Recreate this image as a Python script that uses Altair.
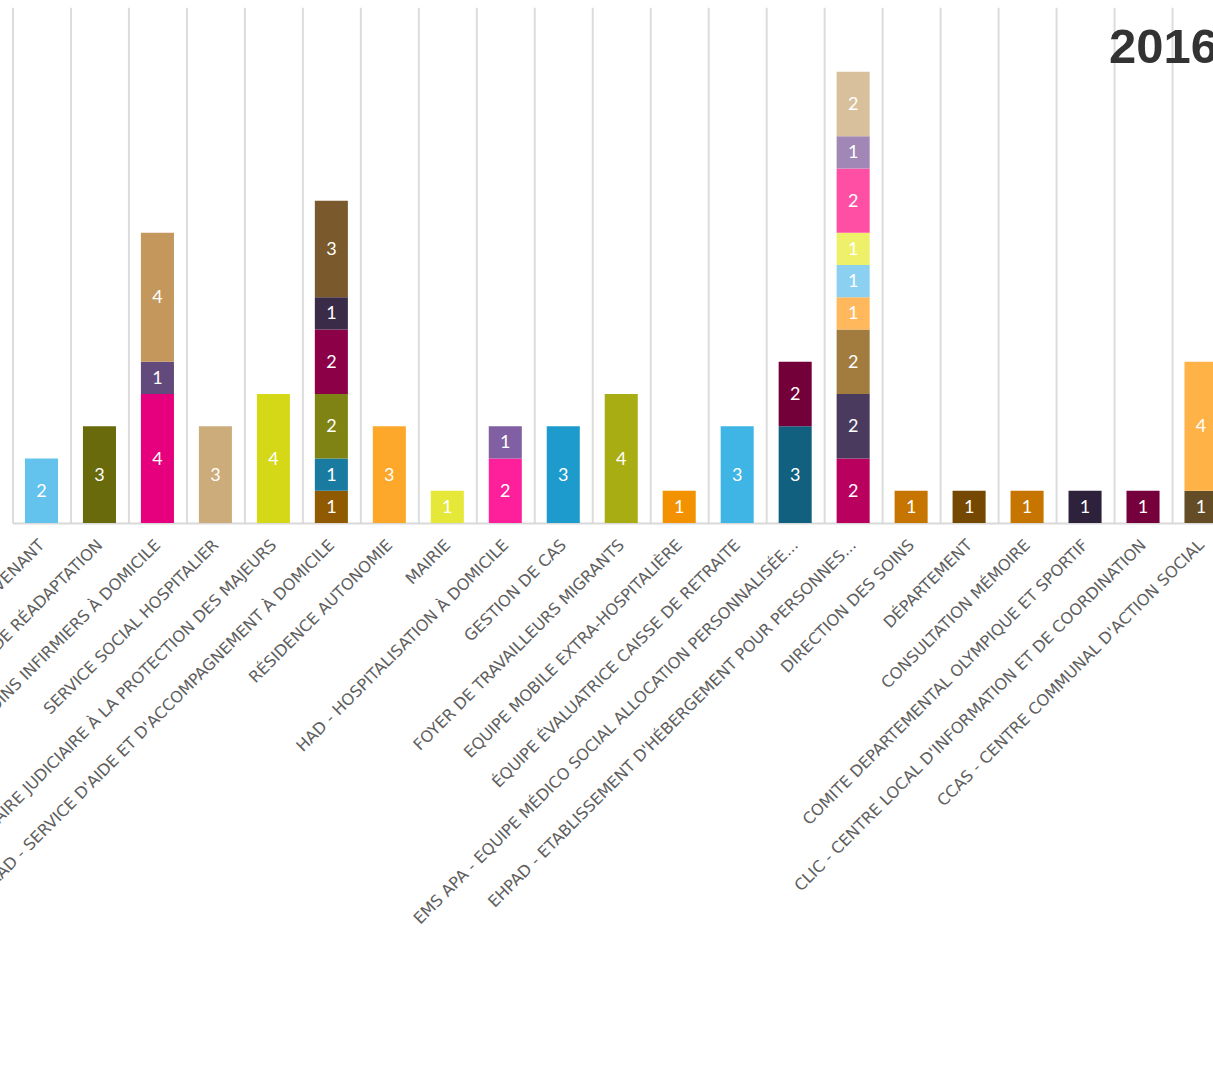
import altair as alt
import pandas as pd

CATEGORIES = [
    "PROFESSIONNEL INTERVENANT",
    "SSR - SOINS DE SUITE ET DE RÉADAPTATION",
    "SSIAD - SERVICE DE SOINS INFIRMIERS À DOMICILE",
    "SERVICE SOCIAL HOSPITALIER",
    "MANDATAIRE JUDICIAIRE À LA PROTECTION DES MAJEURS",
    "SAAD - SERVICE D'AIDE ET D'ACCOMPAGNEMENT À DOMICILE",
    "RÉSIDENCE AUTONOMIE",
    "MAIRIE",
    "HAD - HOSPITALISATION À DOMICILE",
    "GESTION DE CAS",
    "FOYER DE TRAVAILLEURS MIGRANTS",
    "EQUIPE MOBILE EXTRA-HOSPITALIÈRE",
    "ÉQUIPE ÉVALUATRICE CAISSE DE RETRAITE",
    "EMS APA - EQUIPE MÉDICO SOCIAL ALLOCATION PERSONNALISÉE...",
    "EHPAD - ETABLISSEMENT D'HÉBERGEMENT POUR PERSONNES...",
    "DIRECTION DES SOINS",
    "DÉPARTEMENT",
    "CONSULTATION MÉMOIRE",
    "COMITE DEPARTEMENTAL OLYMPIQUE ET SPORTIF",
    "CLIC - CENTRE LOCAL D'INFORMATION ET DE COORDINATION",
    "CCAS - CENTRE COMMUNAL D'ACTION SOCIAL",
]

# stacked values, bottom to top, for each category
VALUES = [
    [2],
    [3],
    [4, 1, 4],
    [3],
    [4],
    [1, 1, 2, 2, 1, 3],
    [3],
    [1],
    [2, 1],
    [3],
    [4],
    [1],
    [3],
    [3, 2],
    [2, 2, 2, 1, 1, 1, 2, 1, 2],
    [1],
    [1],
    [1],
    [1],
    [1],
    [1, 4],
]

# one colour per segment, same order as VALUES flattened
PALETTE = [
    "#63c3ec",
    "#686a0c",
    "#e6007e", "#624a7c", "#c4975c",
    "#cdac7c",
    "#d4d816",
    "#8f5a00", "#197ba0", "#7f8313", "#8c0048", "#3a2b48", "#7a5a2d",
    "#fea82b",
    "#e5e838",
    "#fe1f9a", "#8060a3",
    "#1e9bcd",
    "#a9ad14",
    "#f29200",
    "#3eb5e5",
    "#126080", "#740039",
    "#b9005f", "#4a3a5e", "#a27b3e", "#ffb95c", "#8bd0f0", "#eef06a", "#ff4fa5", "#a087b6", "#d8c09c",
    "#c57500",
    "#744800",
    "#c57500",
    "#2e213c",
    "#75003c",
    "#644c27", "#ffb347",
]

TITLE = "2016"

rows = []
k = 0
for cat, vals in zip(CATEGORIES, VALUES):
    for si, v in enumerate(vals):
        rows.append({"categorie": cat, "segment": f"s{k:02d}", "ordre": si, "valeur": v})
        k += 1
df = pd.DataFrame(rows)
SEGMENTS = list(df["segment"])

STEP = 58
x_enc = alt.X(
    "categorie:N",
    sort=CATEGORIES,
    title=None,
    scale=alt.Scale(paddingInner=0, paddingOuter=0, range=[0, STEP * len(CATEGORIES)]),
    axis=alt.Axis(
        labelAngle=-45,
        labelAlign="right",
        labelBaseline="middle",
        labelPadding=19,
        labelLimit=2000,
        labelFont="DejaVu Sans",
        labelFontSize=16,
        labelColor="#606060",
        ticks=False,
        tickBand="extent",
        grid=True,
        gridColor="#dcdcdc",
        gridWidth=2,
        domainColor="#d9d9d9",
        domainWidth=2,
    ),
)
y_scale = alt.Scale(domain=[0, 16], nice=False, zero=True)

bars = alt.Chart(df).mark_bar(width=alt.RelativeBandSize(0.57)).encode(
    x=x_enc,
    y=alt.Y("valeur:Q", stack="zero", scale=y_scale, axis=None),
    color=alt.Color("segment:N", scale=alt.Scale(domain=SEGMENTS, range=PALETTE), legend=None),
    order=alt.Order("ordre:Q", sort="ascending"),
)

labels = (
    alt.Chart(df)
    .transform_window(
        cum="sum(valeur)", groupby=["categorie"], sort=[alt.SortField("ordre")], frame=[None, 0]
    )
    .transform_calculate(mid="datum.cum - datum.valeur / 2")
    .mark_text(color="white", font="Lato", fontSize=18, baseline="middle", align="center", dy=1)
    .encode(
        x=alt.X("categorie:N", sort=CATEGORIES),
        y=alt.Y("mid:Q", scale=y_scale, axis=None),
        text=alt.Text("valeur:Q"),
    )
)

title_mark = (
    alt.Chart(pd.DataFrame({"titre": [TITLE]}))
    .mark_text(
        font="Liberation Sans",
        fontSize=49,
        fontWeight="bold",
        color="#333333",
        align="left",
        baseline="alphabetic",
    )
    .encode(text="titre:N", x=alt.value(1097), y=alt.value(56))
)

chart = (
    alt.layer(bars, labels, title_mark)
    .properties(
        width=1201,
        height=516,
        padding={"left": 12.5, "top": 7, "right": 0, "bottom": 549},
        autosize=alt.AutoSizeParams(type="none"),
        background="white",
    )
    .configure_view(stroke=None)
)

chart.save("out.html", embed_options={"renderer": "svg", "actions": False})
